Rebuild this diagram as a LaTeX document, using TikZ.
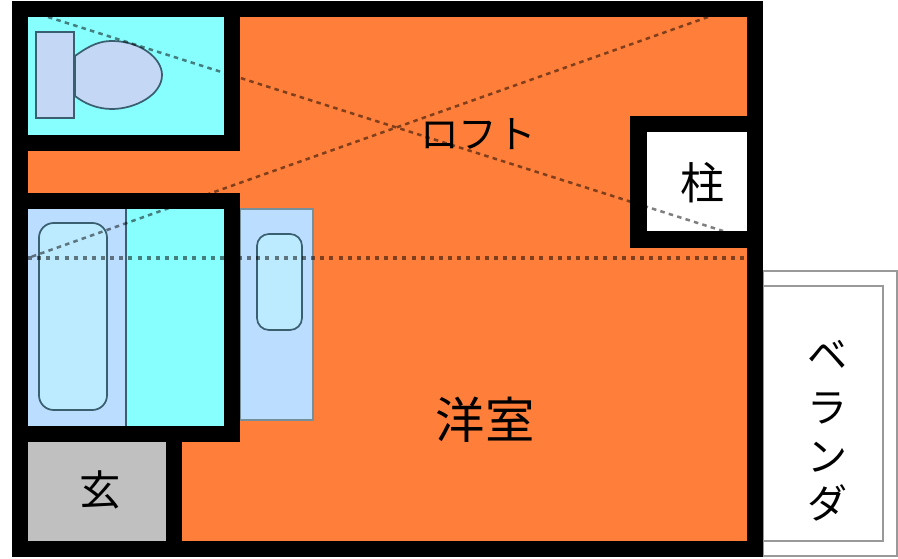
\documentclass[tikz,border=0pt]{standalone}
\usepackage{fontspec}
\newfontfamily\jpfont{Noto Sans CJK JP}
\definecolor{roomorange}{HTML}{FF7F3A}
\definecolor{wetcyan}{HTML}{88FFFF}
\definecolor{fixblue}{HTML}{BBDDFF}
\definecolor{bowlblue}{HTML}{C4D8F6}
\definecolor{basinblue}{HTML}{BCEBFF}
\definecolor{fixline}{HTML}{3A5F70}
\definecolor{entrygray}{HTML}{C0C0C0}
\definecolor{balconyline}{HTML}{999999}
\tikzset{
    wall/.style={fill=black},
    fixture/.style={fill=bowlblue, draw=fixline, line width=1.3pt},
    basin/.style={fill=basinblue, draw=fixline, line width=1.3pt, rounded corners=9pt},
    loftline/.style={draw=black, draw opacity=0.5, line width=1.9pt, dash pattern=on 3.4pt off 3.2pt},
    loftdots/.style={draw=black, draw opacity=0.5, line width=2.6pt, dash pattern=on 3pt off 3.85pt},
    balcony/.style={draw=balconyline, line width=1.1pt},
    roomlabel/.style={font=\jpfont\fontsize{#1}{#1}\selectfont, inner sep=0pt, text=black}
}
\begin{document}
\begin{tikzpicture}[x=0.75pt, y=-0.75pt]
    \useasboundingbox (0,0) rectangle (898,559);
    \fill[white] (0,0) rectangle (898,559);

    % balcony
    \draw[balcony] (763,271) rectangle (897,556);
    \draw[balcony] (763,286) rectangle (883,541);

    % walls and floor
    \fill[wall] (12,1) rectangle (763,557);
    \fill[roomorange] (28,17) rectangle (747,541);

    % toilet room
    \fill[wall] (28,17) rectangle (240,151);
    \fill[wetcyan] (28,17) rectangle (224,135);
    \draw[fixture] (75,56) .. controls (90,45) and (100,41) .. (112,41)
        .. controls (140,41) and (162,58) .. (162,75)
        .. controls (162,95) and (135,109) .. (112,109)
        .. controls (98,109) and (85,104) .. (75,96) -- cycle;
    \draw[fixture] (36,32) rectangle (74,118);

    % counter beside the bath
    \draw[fill=fixblue, draw=fixline!70, line width=0.9pt] (240,209) rectangle (313,420);
    \draw[basin] (257,234) rectangle (302,330);

    % bath room
    \fill[wall] (28,193) rectangle (240,442);
    \fill[fixblue] (28,209) rectangle (126,426);
    \fill[wetcyan] (126,209) rectangle (224,426);
    \draw[fixline, line width=1.5pt] (126,209) -- (126,426);
    \draw[basin, rounded corners=11pt] (39,223) rectangle (107,410);

    % entrance
    \fill[wall] (28,426) rectangle (182,541);
    \fill[entrygray] (28,442) rectangle (166,541);

    % pillar
    \fill[wall] (630,116) rectangle (747,248);
    \fill[white] (647,132) rectangle (747,231);

    % loft outline
    \coordinate (LoftA) at (48,17);
    \coordinate (LoftB) at (723,231);
    \coordinate (LoftC) at (708,17);
    \coordinate (LoftD) at (28,258);
    \coordinate (LoftE) at (747,258);
    \draw[loftline] (LoftA) -- (LoftB);
    \draw[loftline] (LoftC) -- (LoftD);
    \draw[loftdots] (LoftD) -- (LoftE);

    % labels
    \node[roomlabel=29pt] (Loft) at (478,134) {ロフト};
    \node[roomlabel=37pt] (Room) at (485,420) {洋室};
    \node[roomlabel=33pt] (Pillar) at (702,183) {柱};
    \node[roomlabel=31pt] (Entry) at (100,490) {玄};
    \node[roomlabel=30pt] (Ve) at (827,355) {ベ};
    \node[roomlabel=30pt] (Ra) at (827,408) {ラ};
    \node[roomlabel=30pt] (N) at (827,457) {ン};
    \node[roomlabel=30pt] (Da) at (827,503) {ダ};
\end{tikzpicture}
\end{document}
